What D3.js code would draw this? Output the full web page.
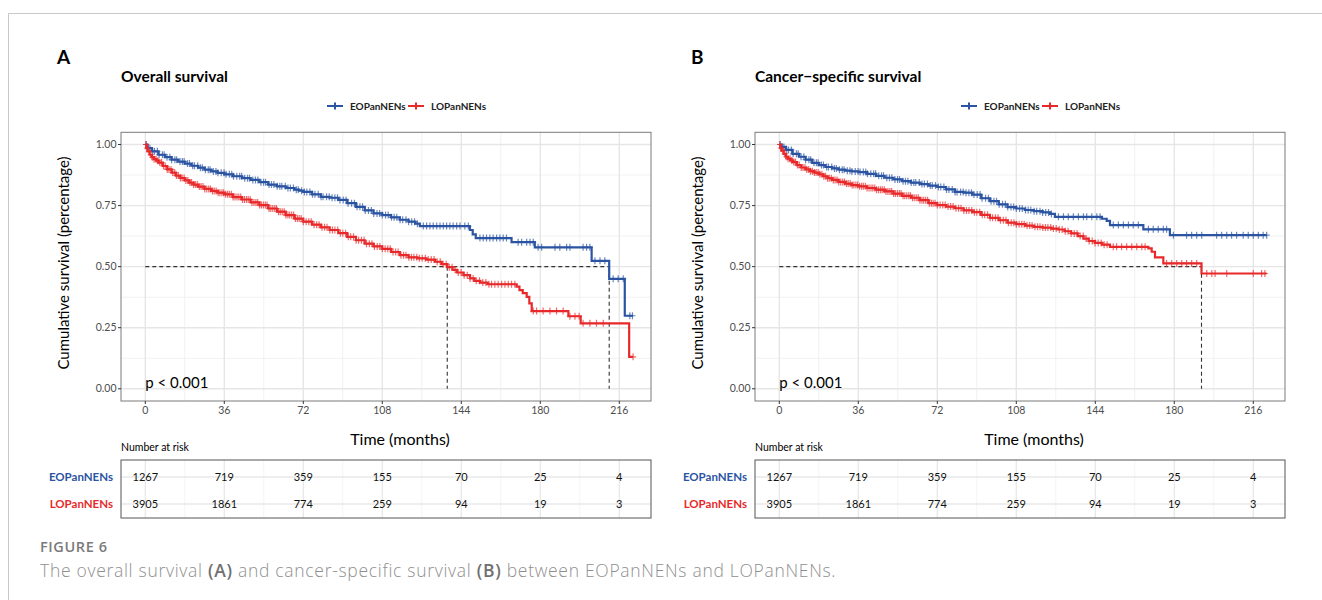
<!DOCTYPE html>
<html><head><meta charset="utf-8">
<script src="https://cdn.jsdelivr.net/npm/d3@7"></script>
<style>body{margin:0;background:#fff;} svg{display:block;}</style>
</head><body><svg id="c" width="1322" height="600"></svg>
<script>
// ---------- data ----------
const groups = ["EOPanNENs", "LOPanNENs"];
const timeTicks = [0, 36, 72, 108, 144, 180, 216];
const timeMinor = [18, 54, 90, 126, 162, 198];
const survTicks = [0, 0.25, 0.5, 0.75, 1];
const survLabels = ["0.00", "0.25", "0.50", "0.75", "1.00"];
const survMinor = [0.125, 0.375, 0.625, 0.875];

const riskEO = [1267, 719, 359, 155, 70, 25, 4];
const riskLO = [3905, 1861, 774, 259, 94, 19, 3];

// Overall survival, [months, survival]
const osEO = [[0,1],[1,0.985],[3,0.972],[6,0.958],[9,0.948],[12,0.938],[15,0.930],[18,0.922],[21,0.913],[24,0.905],[27,0.897],[30,0.890],[33,0.884],[36,0.878],[40,0.870],[44,0.862],[48,0.855],[52,0.846],[56,0.836],[60,0.829],[64,0.822],[68,0.815],[70,0.811],[72,0.806],[76,0.796],[80,0.786],[84,0.782],[88,0.773],[92,0.760],[96,0.745],[100,0.730],[104,0.718],[108,0.711],[112,0.702],[116,0.692],[120,0.684],[123,0.676],[125.1,0.666],[147.9,0.650],[149.2,0.632],[150.6,0.617],[166.9,0.600],[177.5,0.579],[203.4,0.524],[211.4,0.450],[218.5,0.299],[222.3,0.299]];
const osLO = [[0,1],[0.5,0.985],[1,0.972],[2,0.958],[3,0.948],[4,0.940],[5,0.934],[6,0.926],[8,0.912],[10,0.898],[12,0.885],[14,0.873],[16,0.863],[18,0.853],[20,0.844],[22,0.836],[24,0.828],[27,0.818],[30,0.810],[33,0.803],[36,0.796],[40,0.785],[44,0.775],[48,0.763],[52,0.752],[56,0.738],[60,0.725],[64,0.711],[68,0.697],[72,0.684],[76,0.672],[80,0.661],[84,0.650],[88,0.637],[92,0.622],[96,0.608],[100,0.594],[104,0.583],[108,0.573],[112,0.560],[116,0.547],[120,0.538],[124,0.534],[128,0.529],[132,0.520],[135,0.510],[137.6,0.498],[140,0.487],[142,0.476],[145,0.465],[148,0.452],[150,0.442],[152.5,0.435],[156,0.428],[169.2,0.418],[170.5,0.404],[172,0.392],[173.8,0.376],[175,0.350],[176.1,0.318],[192.8,0.297],[198.4,0.268],[220.5,0.131],[222.3,0.131]];

// Cancer-specific survival, [months, survival]
const cssEO = [[0,1],[1,0.99],[3,0.978],[6,0.962],[9,0.950],[12,0.938],[15,0.925],[18,0.916],[21,0.908],[24,0.902],[27,0.897],[30,0.893],[33,0.890],[36,0.887],[40,0.880],[44,0.872],[48,0.864],[52,0.857],[56,0.850],[60,0.844],[64,0.838],[68,0.832],[72,0.826],[76,0.816],[80,0.806],[84,0.803],[88,0.795],[92,0.780],[96,0.768],[100,0.755],[104,0.744],[108,0.738],[112,0.732],[116,0.727],[120,0.722],[123.4,0.716],[125.6,0.704],[147,0.696],[149.2,0.687],[150.7,0.670],[165.9,0.653],[178,0.629],[222.1,0.629]];
const cssLO = [[0,1],[0.5,0.985],[1,0.975],[2,0.962],[3,0.950],[4,0.942],[5,0.935],[6,0.928],[8,0.916],[10,0.906],[12,0.898],[14,0.891],[16,0.885],[18,0.878],[20,0.870],[22,0.862],[24,0.855],[27,0.847],[30,0.840],[33,0.834],[36,0.829],[40,0.822],[44,0.815],[48,0.808],[52,0.799],[56,0.790],[60,0.782],[64,0.772],[68,0.760],[72,0.752],[76,0.746],[80,0.739],[84,0.730],[88,0.723],[92,0.712],[96,0.700],[100,0.690],[104,0.680],[108,0.674],[112,0.668],[116,0.663],[120,0.660],[124,0.656],[127,0.652],[130,0.645],[133,0.636],[136,0.625],[138.6,0.615],[141,0.605],[143.9,0.597],[147,0.590],[150.7,0.581],[168.2,0.575],[169.7,0.561],[171.2,0.538],[175,0.513],[192.4,0.472],[222.1,0.472]];

// censoring times (months)
const eoCensEarly = [0.4,1.3,2.1,3.4,4.2,5.5,6.3,7.8,8.6,9.9,11.2,12.0,13.5,14.3,15.8,16.9,17.7,19.2,20.1,21.6,22.4,23.9,25.1,26.0,27.4,28.7,29.5,31.0,32.2,33.1,34.6,35.9,36.8,38.3,39.4,40.2,41.7,43.0,43.9,45.3,46.6,47.5,49.0,50.2,51.3,52.7,53.9,54.8,56.4,57.5,58.6,60.1,61.3,62.2,63.8,65.0,66.1,67.5,68.8,69.7,71.2,72.5,73.6,75.0,76.2,77.3,78.8,80.1,81.0,82.6,83.8,85.1,86.4,87.6,88.7,90.2,91.5,92.4,94.0,95.3,96.5,97.8,99.0,100.2,101.7,103.0,104.1,105.6,106.8,108.0,109.5,110.7,112.2,113.4,114.6,116.1,117.3,118.8,120.0,121.4,122.7,124.0];
const loCensEarly = [0.3,0.9,1.7,2.5,3.2,4.0,4.9,5.7,6.6,7.4,8.3,9.1,10.0,10.8,11.7,12.5,13.4,14.2,15.1,16.0,16.8,17.7,18.5,19.4,20.3,21.1,22.0,22.8,23.7,24.6,25.4,26.3,27.1,28.0,28.9,29.7,30.6,31.4,32.3,33.2,34.0,34.9,35.7,36.6,37.5,38.3,39.2,40.0,40.9,41.8,42.6,43.5,44.3,45.2,46.1,46.9,47.8,48.6,49.5,50.4,51.2,52.1,52.9,53.8,54.7,55.5,56.4,57.2,58.1,59.0,59.8,60.7,61.5,62.4,63.3,64.1,65.0,65.8,66.7,67.6,68.4,69.3,70.1,71.0,72.0,73.3,74.5,75.6,76.9,78.1,79.2,80.5,81.7,82.8,84.1,85.3,86.4,87.7,88.9,90.0,91.3,92.5,93.6,94.9,96.1,97.2,98.5,99.7,100.8,102.1,103.3,104.4,105.7,106.9,108.0,109.3,110.5,111.6,112.9,114.1,115.2,116.5,117.7,118.8,120.1,121.3,122.4,123.7,124.9,126.2,127.6,128.9,130.3,131.6,133.0,134.4,135.7,137.1,138.5,139.8,141.2,142.6,143.9,145.3,146.7,148.0,149.4,150.8,152.3,153.8,155.2,156.6];
const osEOCensLate = [126.7,128.2,129.7,131.2,132.8,134.3,135.8,137.3,138.8,140.3,141.9,143.4,145.6,147.2,152.5,154.0,155.5,157.0,158.5,160.1,161.6,163.1,164.6,169.9,171.5,173.8,175.3,176.8,179.0,180.6,186.7,188.9,192.0,193.5,199.5,201.1,202.6,204.9,207.2,209.4,213.2,215.5,217.8,220.8,222.0];
const osLOCensLate = [157.8,159.3,160.8,162.4,163.9,165.4,166.9,168.4,176.8,178.3,181.3,184.4,187.4,190.4,193.5,195.8,197.7,199.5,202.6,205.6,208.7,222.3];
const cssEOCensLate = [127.2,129.5,131.7,134.0,136.3,138.6,140.1,142.4,144.7,146.2,152.2,154.5,156.8,159.1,161.3,163.6,168.2,170.4,172.7,175.0,176.5,179.6,185.6,187.9,190.2,192.5,199.3,201.6,203.9,206.1,208.4,211.4,213.7,216.0,218.3,220.5,222.1];
const cssLOCensLate = [152.2,153.7,156.0,158.3,160.6,162.9,165.2,166.7,176.5,178.8,181.1,183.4,185.6,187.9,190.2,194.8,197.1,198.6,203.9,216.0,219.8,221.3];

const osMedians = [137.6, 211.4];
const cssMedians = [192.4];

const colors = ["#2b54a2", "#e8292b"];

// ---------- drawing ----------
const svg = d3.select("#c");
const FONT = "Lato, 'Open Sans', sans-serif";

svg.append("path").attr("d", "M8.5,600 V13.5 H1322")
  .attr("fill", "none").attr("stroke", "#c9c9c9").attr("stroke-width", 1);

function survAt(curve, t) {
  const ts = curve.map(d => d[0]);
  const i = d3.bisectRight(ts, t) - 1;
  return curve[Math.max(0, i)][1];
}

function panel(off, letter, title, curves, censList, medians) {
  const g = svg.append("g");
  const x = d3.scaleLinear().domain([-11.07, 230.45]).range([121 + off, 651 + off]);
  const y = d3.scaleLinear().domain([-0.05, 1.05]).range([401, 132.3]);

  g.append("text").attr("x", 57 + off).attr("y", 64).text(letter)
    .attr("font-family", FONT).attr("font-weight", 700).attr("font-size", 19).attr("fill", "#000");
  g.append("text").attr("x", 121 + off).attr("y", 82).text(title)
    .attr("font-family", FONT).attr("font-weight", 700).attr("font-size", 15.5).attr("fill", "#000");

  // legend
  const lg = g.append("g").attr("font-family", FONT).attr("font-size", 10).attr("font-weight", 700);
  const legX = [[327, 350], [408, 431]];
  groups.forEach((name, i) => {
    const [kx, tx] = legX[i];
    lg.append("path").attr("d", `M${kx + off},106 H${kx + off + 16} M${kx + off + 8},102.5 V109.5`)
      .attr("stroke", colors[i]).attr("stroke-width", 2).attr("fill", "none");
    lg.append("text").attr("x", tx + off).attr("y", 109.5).text(name).attr("fill", "#222");
  });

  // grid
  const grid = g.append("g");
  grid.selectAll(".vm").data(timeMinor).join("line")
    .attr("x1", d => x(d)).attr("x2", d => x(d)).attr("y1", 132.3).attr("y2", 401)
    .attr("stroke", "#eeeeee").attr("stroke-width", 0.8);
  grid.selectAll(".hm").data(survMinor).join("line")
    .attr("y1", d => y(d)).attr("y2", d => y(d)).attr("x1", 121 + off).attr("x2", 651 + off)
    .attr("stroke", "#eeeeee").attr("stroke-width", 0.8);
  grid.selectAll(".vM").data(timeTicks).join("line")
    .attr("x1", d => x(d)).attr("x2", d => x(d)).attr("y1", 132.3).attr("y2", 401)
    .attr("stroke", "#e6e6e6").attr("stroke-width", 1.4);
  grid.selectAll(".hM").data(survTicks).join("line")
    .attr("y1", d => y(d)).attr("y2", d => y(d)).attr("x1", 121 + off).attr("x2", 651 + off)
    .attr("stroke", "#e6e6e6").attr("stroke-width", 1.4);

  // median lines
  const md = g.append("g").attr("stroke", "#333").attr("stroke-width", 1.1)
    .attr("stroke-dasharray", "4,3").attr("fill", "none");
  md.append("line").attr("x1", x(0)).attr("x2", x(d3.max(medians))).attr("y1", y(0.5)).attr("y2", y(0.5));
  medians.forEach(m => md.append("line").attr("x1", x(m)).attr("x2", x(m)).attr("y1", y(0.5)).attr("y2", y(0)));

  // curves
  const line = d3.line().x(d => x(d[0])).y(d => y(d[1])).curve(d3.curveStepAfter);
  curves.forEach((c, i) => {
    g.append("path").datum(c).attr("d", line).attr("fill", "none")
      .attr("stroke", colors[i]).attr("stroke-width", 2.2);
    const cens = censList[i].filter(t => t <= c[c.length - 1][0]);
    g.append("g").selectAll("path").data(cens).join("path")
      .attr("d", t => {
        const px = x(t), py = y(survAt(c, t));
        return `M${px - 3},${py} H${px + 3} M${px},${py - 3.5} V${py + 3.5}`;
      })
      .attr("stroke", colors[i]).attr("stroke-width", 1.2).attr("opacity", 0.7).attr("fill", "none");
  });

  // border
  g.append("rect").attr("x", 121 + off).attr("y", 132.3).attr("width", 530).attr("height", 268.7)
    .attr("fill", "none").attr("stroke", "#7a7a7a").attr("stroke-width", 1);

  // axes
  const ax = g.append("g").attr("font-family", FONT).attr("font-size", 10.5).attr("fill", "#4d4d4d");
  timeTicks.forEach(t => {
    ax.append("line").attr("x1", x(t)).attr("x2", x(t)).attr("y1", 401).attr("y2", 404)
      .attr("stroke", "#333");
    ax.append("text").attr("x", x(t)).attr("y", 414).attr("text-anchor", "middle").text(t);
  });
  survTicks.forEach((s, i) => {
    ax.append("line").attr("x1", 118 + off).attr("x2", 121 + off).attr("y1", y(s)).attr("y2", y(s))
      .attr("stroke", "#333");
    ax.append("text").attr("x", 116.5 + off).attr("y", y(s) + 3.7).attr("text-anchor", "end").text(survLabels[i]);
  });
  g.append("text").attr("transform", `translate(${69 + off},263) rotate(-90)`)
    .attr("text-anchor", "middle").text("Cumulative survival (percentage)")
    .attr("font-family", FONT).attr("font-size", 15).attr("fill", "#000");
  g.append("text").attr("x", x(0)).attr("y", 387.7).text("p < 0.001")
    .attr("font-family", FONT).attr("font-size", 15).attr("fill", "#000");
  g.append("text").attr("x", 400 + off).attr("y", 445).attr("text-anchor", "middle").text("Time (months)")
    .attr("font-family", FONT).attr("font-size", 16).attr("fill", "#000");

  // risk table
  const rt = g.append("g");
  rt.append("text").attr("x", 121 + off).attr("y", 451).text("Number at risk")
    .attr("font-family", FONT).attr("font-size", 10.5).attr("fill", "#000");
  const ry = d3.scalePoint().domain(groups).range([477, 504]);
  rt.selectAll(".tvm").data(timeMinor).join("line")
    .attr("x1", d => x(d)).attr("x2", d => x(d)).attr("y1", 460).attr("y2", 518)
    .attr("stroke", "#f0f0f0").attr("stroke-width", 0.8);
  rt.selectAll(".tvM").data(timeTicks).join("line")
    .attr("x1", d => x(d)).attr("x2", d => x(d)).attr("y1", 460).attr("y2", 518)
    .attr("stroke", "#e8e8e8").attr("stroke-width", 1.3);
  rt.selectAll(".th").data(groups).join("line")
    .attr("x1", 121 + off).attr("x2", 651 + off).attr("y1", d => ry(d)).attr("y2", d => ry(d))
    .attr("stroke", "#e8e8e8").attr("stroke-width", 1.3);
  rt.append("rect").attr("x", 121 + off).attr("y", 460).attr("width", 530).attr("height", 58)
    .attr("fill", "none").attr("stroke", "#555").attr("stroke-width", 1);
  [riskEO, riskLO].forEach((vals, gi) => {
    rt.append("text").attr("x", 113 + off).attr("y", ry(groups[gi]) + 4).attr("text-anchor", "end")
      .text(groups[gi]).attr("font-family", FONT).attr("font-size", 11.5).attr("font-weight", 700).attr("fill", colors[gi]);
    vals.forEach((v, ti) => {
      rt.append("text").attr("x", x(timeTicks[ti])).attr("y", ry(groups[gi]) + 4)
        .attr("text-anchor", "middle").text(v)
        .attr("font-family", FONT).attr("font-size", 11).attr("fill", "#111");
    });
  });
}

panel(0, "A", "Overall survival", [osEO, osLO],
  [eoCensEarly.concat(osEOCensLate), loCensEarly.concat(osLOCensLate)], osMedians);
panel(634, "B", "Cancer\u2212specific survival", [cssEO, cssLO],
  [eoCensEarly.concat(cssEOCensLate), loCensEarly.filter(t => t < 150.7).concat(cssLOCensLate)], cssMedians);

// caption
svg.append("text").attr("x", 40).attr("y", 552).text("FIGURE 6")
  .attr("font-family", "'Open Sans', sans-serif").attr("font-weight", 600).attr("font-size", 14.5)
  .attr("letter-spacing", 0.6).attr("fill", "#7a7a7a");
const cap = svg.append("text").attr("x", 40).attr("y", 577)
  .attr("font-family", "'Open Sans', sans-serif").attr("font-size", 17.5).attr("fill", "#8f8f8f")
  .attr("letter-spacing", 0.7).attr("font-weight", 300);
[["The overall survival ", false], ["(A)", true], [" and cancer-specific survival ", false], ["(B)", true],
 [" between EOPanNENs and LOPanNENs.", false]].forEach(([s, b]) => {
  const ts = cap.append("tspan").text(s);
  if (b) ts.attr("font-weight", 600).attr("fill", "#707070");
});
</script></body></html>
